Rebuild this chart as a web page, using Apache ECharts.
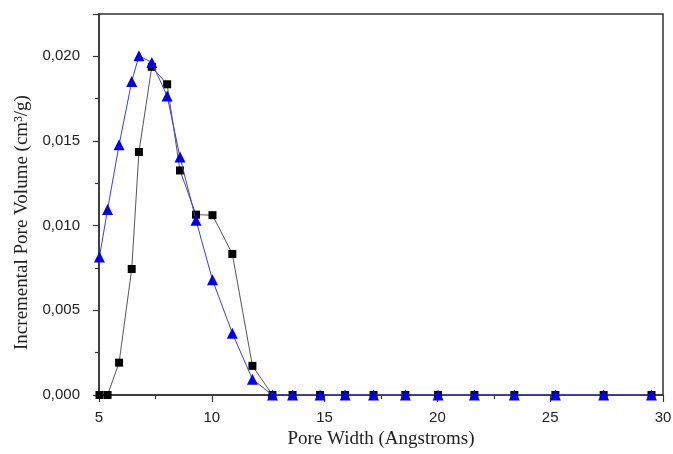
<!DOCTYPE html>
<html>
<head>
<meta charset="utf-8">
<script src="https://cdn.jsdelivr.net/npm/echarts@6/dist/echarts.min.js"></script>
<style>
  html, body { margin: 0; padding: 0; background: #fff; }
  #chart { width: 673px; height: 454px; }
</style>
</head>
<body>
<div id="chart"></div>
<script>
// pore widths (Angstroms), shared by both curves
const poreWidth = [5.02, 5.38, 5.89, 6.45, 6.77, 7.34, 8.02, 8.59, 9.30, 10.03, 10.91, 11.80,
  12.69, 13.58, 14.80, 15.91, 17.17, 18.58, 20.03, 21.64, 23.41, 25.23, 27.37, 29.49];
// black squares
const volSquare = [0, 0, 0.00191, 0.00744, 0.01435, 0.01938, 0.01835, 0.01326, 0.01065, 0.01062,
  0.00833, 0.00172, 0, 0, 0, 0, 0, 0, 0, 0, 0, 0, 0, 0];
// blue triangles
const volTriangle = [0.00815, 0.01095, 0.01478, 0.01851, 0.02003, 0.01964, 0.01766, 0.01405, 0.01032,
  0.0068, 0.00365, 0.00093, 0, 0, 0, 0, 0, 0, 0, 0, 0, 0, 0, 0];

const pairs = (xs, ys) => xs.map((x, i) => [x, ys[i]]);

const axisColor = '#333';

let myChart = echarts.init(document.getElementById('chart'));
myChart.setOption({
  animation: false,
  grid: {
    left: 99,
    right: 10,
    top: 14,
    bottom: 59,
    outerBoundsMode: 'none',
    containLabel: false,
    show: true,
    borderColor: axisColor,
    borderWidth: 1.5,
    backgroundColor: '#fff'
  },
  xAxis: {
    type: 'value',
    min: 5,
    max: 30,
    interval: 5,
    name: 'Pore Width (Angstroms)',
    nameLocation: 'middle',
    nameGap: 33,
    nameTextStyle: {
      fontFamily: 'Liberation Serif',
      fontSize: 19,
      color: '#222'
    },
    axisLine: { lineStyle: { color: axisColor, width: 1.5 } },
    axisTick: { inside: false, length: 7, lineStyle: { color: axisColor, width: 1.2 } },
    minorTick: { show: true, splitNumber: 2, length: 4, lineStyle: { color: axisColor, width: 1.2 } },
    splitLine: { show: false },
    axisLabel: {
      fontFamily: 'Liberation Sans',
      fontSize: 15,
      color: '#222',
      margin: 15
    }
  },
  yAxis: {
    type: 'value',
    min: 0,
    max: 0.0225,
    interval: 0.005,
    name: 'Incremental Pore Volume (cm³/g)',
    nameLocation: 'middle',
    nameGap: 67,
    nameTextStyle: {
      fontFamily: 'Liberation Serif',
      fontSize: 19,
      color: '#222',
      padding: [0, 36, 0, 0]
    },
    axisLine: { lineStyle: { color: axisColor, width: 1.5 } },
    axisTick: { inside: false, length: 6, lineStyle: { color: axisColor, width: 1.2 } },
    minorTick: { show: true, splitNumber: 2, length: 4, lineStyle: { color: axisColor, width: 1.2 } },
    splitLine: { show: false },
    axisLabel: {
      fontFamily: 'Liberation Sans',
      fontSize: 15,
      color: '#222',
      margin: 19,
      showMaxLabel: false,
      formatter: v => v.toFixed(3).replace('.', ',')
    }
  },
  series: [
    {
      type: 'line',
      data: pairs(poreWidth, volSquare),
      symbol: 'rect',
      symbolSize: 8,
      itemStyle: { color: '#000' },
      lineStyle: { color: '#555', width: 1 },
      z: 2
    },
    {
      type: 'line',
      data: pairs(poreWidth, volTriangle),
      symbol: 'triangle',
      symbolSize: 11,
      itemStyle: { color: '#0000ee' },
      lineStyle: { color: '#3b3bea', width: 1 },
      z: 3
    }
  ]
});
window.addEventListener('resize', () => {
  myChart.resize();
});
</script>
</body>
</html>
